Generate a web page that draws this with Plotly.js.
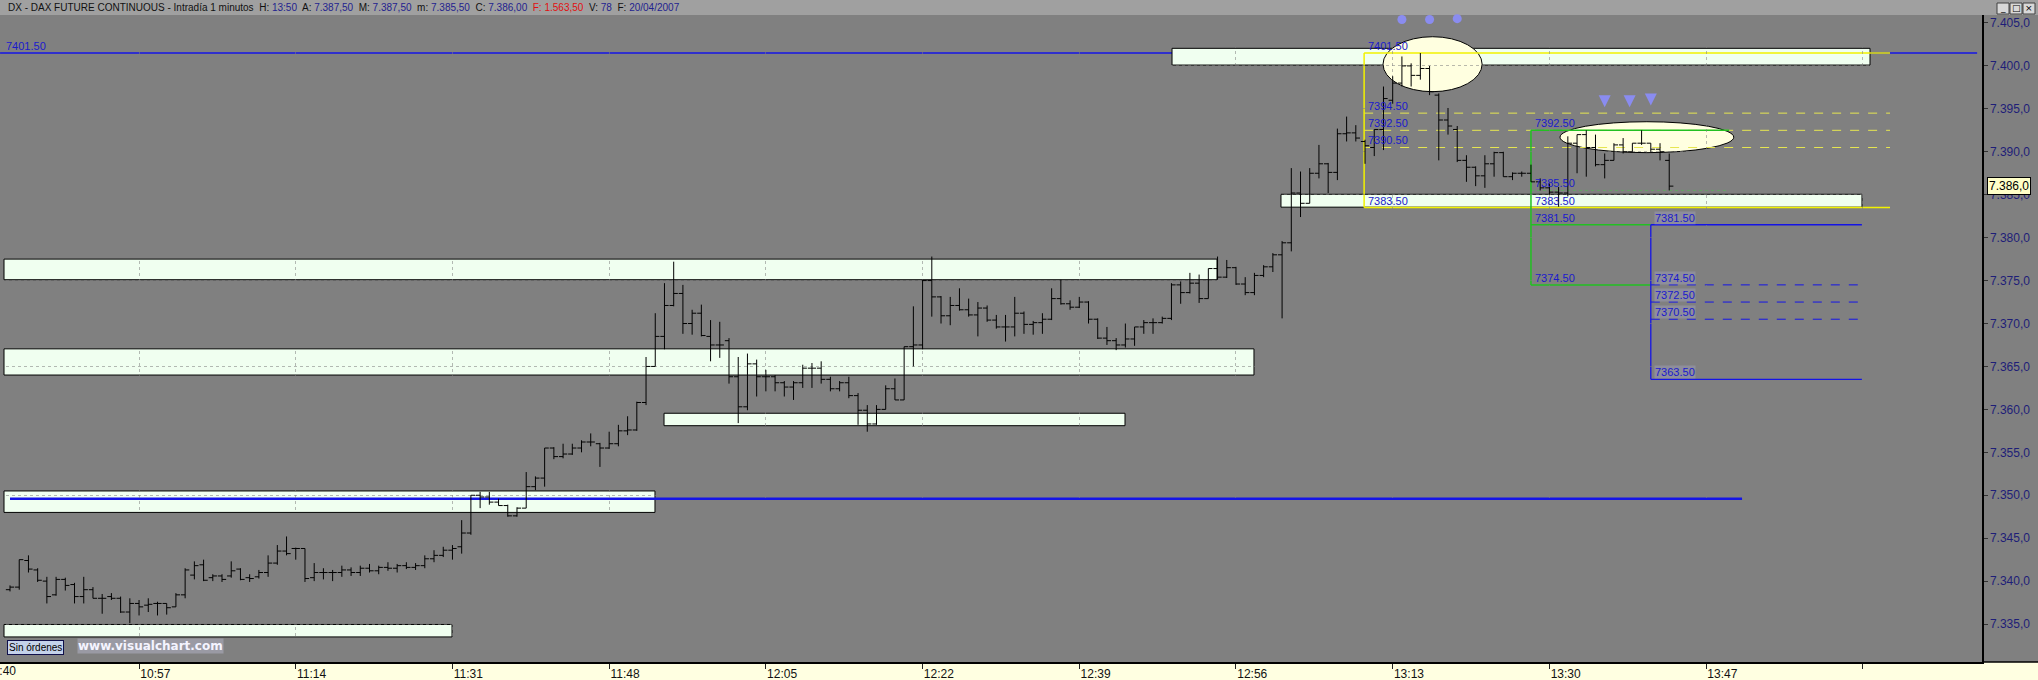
<!DOCTYPE html>
<html><head><meta charset="utf-8">
<script src="https://cdn.plot.ly/plotly-3.0.1.min.js"></script>
<style>html,body{margin:0;padding:0;background:#808080;overflow:hidden}#chart{width:2038px;height:680px}</style>
</head><body><div id="chart"></div>
<script>
// ---------- DATA ----------
const startMinute = 43; // first bar 10:43 (minutes after 10:00)
const opens = [7339.0,7339.3,7342.4,7341.3,7340.0,7338.4,7340.2,7339.6,7338.2,7339.0,
7338.0,7338.2,7338.0,7336.4,7337.4,7337.2,7337.4,7337.4,7337.0,7338.4,
7340.7,7341.9,7340.4,7340.6,7340.6,7341.4,7340.4,7340.5,7341.0,7342.1,
7343.5,7343.8,7343.8,7340.4,7341.0,7341.0,7341.0,7341.3,7341.0,7341.5,
7341.2,7341.6,7341.5,7341.8,7341.6,7341.8,7342.6,7343.0,7343.6,7344.0,
7345.6,7350.0,7349.8,7349.2,7348.8,7347.6,7348.5,7351.0,7352.0,7355.5,
7354.5,7354.8,7355.5,7356.2,7356.0,7355.5,7356.0,7357.5,7357.6,7360.8,
7365.0,7368.5,7372.1,7373.5,7370.0,7371.2,7368.5,7367.5,7368.0,7363.8,
7360.3,7365.3,7363.8,7363.8,7363.1,7362.6,7363.1,7364.8,7364.8,7363.5,
7362.4,7363.1,7361.6,7359.9,7358.3,7360.0,7362.4,7361.1,7367.3,7367.5,
7375.0,7373.1,7370.9,7372.1,7371.6,7371.0,7371.8,7370.4,7369.6,7369.6,
7371.2,7369.9,7370.1,7370.5,7372.9,7372.3,7371.9,7372.5,7370.5,7368.3,
7368.0,7367.5,7368.2,7369.6,7370.1,7370.1,7370.6,7374.5,7373.6,7374.7,
7372.9,7376.4,7375.4,7376.5,7374.6,7373.6,7375.6,7376.6,7378.0,7379.4,
7385.2,7384.0,7387.5,7388.6,7387.6,7392.1,7392.2,7391.2,7390.5,7392.6,
7396.0,7398.0,7400.0,7398.9,7399.7,7396.6,7393.7,7392.6,7389.0,7388.2,
7387.2,7388.6,7389.9,7387.1,7387.5,7387.5,7386.5,7385.8,7385.3,7385.2,
7391.0,7392.0,7390.5,7388.5,7389.0,7390.8,7390.0,7391.0,7391.0,7390.3,
7389.0];
const highs = [7339.5,7342.5,7343.0,7341.5,7340.5,7340.5,7340.4,7339.8,7340.5,7339.3,
7338.5,7338.6,7338.2,7338.0,7337.8,7338.0,7337.6,7337.4,7338.6,7341.5,
7342.3,7342.5,7340.8,7340.8,7342.3,7341.5,7340.8,7341.3,7343.0,7344.2,
7345.2,7343.9,7343.8,7342.1,7341.5,7341.3,7341.8,7341.6,7341.8,7342.0,
7341.8,7342.2,7342.0,7342.2,7342.1,7343.0,7343.6,7344.0,7344.2,7347.1,
7350.0,7350.4,7350.4,7349.6,7348.9,7348.6,7352.7,7352.2,7355.5,7355.6,
7356.0,7356.0,7356.4,7357.2,7356.1,7357.4,7358.2,7359.2,7360.9,7366.1,
7371.2,7374.7,7377.2,7374.5,7371.6,7372.2,7370.4,7370.2,7368.3,7366.1,
7366.5,7365.8,7364.6,7364.0,7363.3,7363.3,7365.2,7365.4,7365.6,7363.8,
7363.3,7363.8,7361.9,7360.5,7360.5,7362.8,7363.6,7367.3,7372.0,7375.1,
7377.8,7373.2,7373.1,7374.1,7372.9,7372.5,7372.1,7371.0,7371.0,7373.1,
7371.4,7370.3,7371.2,7374.1,7375.1,7372.7,7373.1,7372.6,7370.6,7369.6,
7368.3,7370.0,7369.6,7370.4,7370.6,7370.8,7374.7,7374.9,7375.9,7375.7,
7376.4,7377.8,7377.4,7376.6,7375.4,7375.9,7376.8,7378.2,7379.6,7388.1,
7387.7,7388.1,7390.8,7388.7,7392.7,7394.1,7393.1,7391.4,7392.6,7397.6,
7398.8,7401.1,7400.3,7401.5,7400.0,7396.8,7395.1,7393.0,7389.6,7388.3,
7389.6,7390.0,7390.0,7387.6,7387.7,7388.5,7386.9,7386.3,7385.9,7391.8,
7392.0,7392.5,7392.0,7389.8,7391.0,7391.6,7391.0,7392.5,7391.0,7391.0,
7389.8];
const lows = [7338.8,7339.0,7341.0,7339.9,7337.4,7338.3,7338.9,7337.4,7337.4,7338.0,
7336.2,7337.8,7336.3,7335.1,7336.0,7336.4,7336.0,7336.1,7337.0,7338.0,
7340.2,7340.0,7340.0,7339.9,7340.4,7340.1,7339.9,7340.3,7340.5,7341.9,
7343.0,7342.5,7339.9,7340.0,7340.2,7340.0,7340.5,7340.6,7340.6,7341.0,
7340.8,7341.2,7341.0,7341.4,7341.3,7341.5,7342.2,7342.8,7342.5,7343.2,
7345.4,7348.5,7348.9,7348.8,7347.5,7347.5,7348.5,7350.6,7351.0,7354.2,
7354.3,7354.7,7355.0,7355.7,7353.3,7355.4,7355.7,7357.0,7357.5,7360.5,
7365.0,7367.0,7372.0,7368.8,7368.7,7368.5,7365.6,7366.0,7363.0,7358.4,
7359.9,7361.5,7362.1,7362.1,7361.5,7361.1,7362.5,7362.5,7363.0,7362.1,
7362.1,7361.3,7358.2,7357.4,7358.2,7360.0,7361.1,7361.1,7365.0,7367.0,
7370.8,7370.0,7369.8,7371.5,7370.8,7368.5,7370.2,7369.4,7367.9,7368.5,
7368.8,7368.7,7368.8,7370.4,7372.2,7371.6,7371.8,7370.0,7368.2,7367.5,
7366.9,7367.2,7367.4,7368.8,7368.8,7370.0,7370.4,7372.3,7373.5,7372.4,
7372.9,7375.1,7375.3,7374.5,7373.3,7373.3,7375.4,7376.0,7370.6,7378.4,
7382.4,7384.0,7386.9,7385.2,7386.7,7391.2,7391.2,7388.6,7389.5,7390.2,
7395.6,7397.6,7397.6,7398.4,7396.6,7389.0,7392.0,7388.8,7386.5,7386.0,
7385.8,7387.1,7387.1,7386.7,7387.1,7386.5,7385.5,7385.0,7383.6,7384.8,
7387.5,7387.1,7388.3,7386.9,7389.0,7389.8,7390.0,7390.8,7390.0,7389.0,
7385.5];
const closes = [7339.3,7342.5,7341.4,7340.1,7338.2,7340.2,7339.5,7338.2,7339.0,7338.0,
7338.0,7338.0,7336.4,7337.4,7337.0,7337.3,7337.4,7336.9,7338.4,7341.3,
7341.8,7340.1,7340.6,7340.2,7341.2,7340.2,7340.3,7341.0,7342.1,7343.5,
7343.2,7343.8,7340.3,7341.0,7341.0,7341.0,7341.3,7341.0,7341.5,7341.2,
7341.6,7341.5,7341.8,7341.6,7341.8,7342.6,7343.0,7343.6,7343.8,7345.6,
7350.0,7349.8,7349.2,7348.8,7347.6,7348.5,7351.0,7352.0,7355.5,7354.5,
7354.8,7355.5,7356.2,7356.2,7355.5,7356.0,7357.5,7357.6,7360.8,7365.0,
7368.5,7372.1,7373.5,7370.0,7371.2,7368.6,7367.5,7367.5,7363.8,7360.3,
7365.3,7363.8,7363.8,7363.1,7362.6,7363.1,7364.8,7364.8,7363.5,7362.4,
7363.1,7361.6,7359.9,7358.3,7360.0,7362.4,7361.1,7367.3,7367.5,7375.0,
7373.1,7370.9,7372.1,7371.6,7371.0,7371.8,7370.4,7369.6,7369.6,7371.2,
7369.9,7370.1,7370.5,7372.9,7372.3,7371.9,7372.5,7370.5,7368.3,7368.0,
7367.5,7368.2,7369.6,7370.1,7370.1,7370.6,7374.5,7373.6,7374.7,7372.9,
7376.4,7375.4,7376.5,7374.6,7373.6,7375.6,7376.6,7378.0,7379.4,7385.2,
7384.0,7387.5,7388.6,7387.6,7392.1,7392.2,7391.6,7390.7,7392.6,7396.2,
7398.0,7400.0,7398.9,7399.7,7397.0,7393.7,7393.0,7389.0,7388.2,7387.2,
7388.6,7389.9,7387.1,7387.5,7387.5,7386.5,7385.8,7385.3,7385.2,7391.0,
7392.0,7390.5,7388.5,7389.0,7390.8,7390.0,7391.0,7391.0,7390.3,7390.0,
7386.0];
const barMinutes = opens.map((_, i) => startMinute + i);

const tickMinutes = [57, 74, 91, 108, 125, 142, 159, 176, 193, 210, 227, 244];
const tickLabels = ['10:57','11:14','11:31','11:48','12:05','12:22','12:39','12:56','13:13','13:30','13:47',''];
const firstTick = {minute: 40, label: '10:40'};
const priceTicks = [7335,7340,7345,7350,7355,7360,7365,7370,7375,7380,7385,7390,7395,7400,7405];
const lastPrice = 7386.0;

// support / resistance zones
const zoneStart = [169.06, 180.88, 42.35, 42.35, 113.95, 42.35, 42.35];
const zoneEnd   = [244.78, 243.91, 173.94, 177.95, 163.96, 112.97, 90.95];
const zoneLow   = [7400.1, 7383.55, 7375.1, 7364.0, 7358.1, 7348.0, 7333.5];
const zoneHigh  = [7402.05, 7385.05, 7377.5, 7367.05, 7359.55, 7350.5, 7334.95];
// long blue horizontal lines
const hLineLevel = [7401.5, 7349.6];
const hLineStart = [41.92, 43.0];
const hLineEnd   = [256.4, 230.9];
// ellipses
const ovalStart = [191.95, 211.15];
const ovalEnd   = [202.7, 230.0];
const ovalLow   = [7397.0, 7389.9];
const ovalHigh  = [7403.4, 7393.5];
// retracement sets
const fibA = {x0: 189.9, x1: 246.95, solid: [7401.5, 7383.5], dashed: [7394.5, 7392.5, 7390.5], labels: [7401.5, 7394.5, 7392.5, 7390.5, 7383.5]};
const fibB = {x0: 208.0, top: 7392.5, topEnd: 229.5, solid: [7381.5, 7374.5], solidEnd: 221.0, faint: [7385.5], bottom: 7374.5, labels: [7392.5, 7385.5, 7383.5, 7381.5, 7374.5]};
const fibC = {x0: 221.0, x1: 243.9, solid: [7381.5, 7363.5], dashed: [7374.5, 7372.5, 7370.5], labels: [7381.5, 7374.5, 7372.5, 7370.5, 7363.5]};
// signal markers
const dotMinutes = [194, 197, 200];
const dotPrices = [7405.4, 7405.4, 7405.5];
const arrowMinutes = [216, 218.7, 221];
const arrowPrices = [7395.2, 7395.2, 7395.4];

// ---------- LAYOUT HELPERS ----------
const W = 2038, H = 680, ML = 0, MR = 56, MT = 15, MB = 18;
const PW = W - ML - MR, PH = H - MT - MB;
const px = v => (v - ML) / PW;
const py = v => (H - MB - v) / PH;
const FONT = 'Liberation Sans, Arial, sans-serif';
const BLUE_TXT = '#1a1acc';
const xRange = [41.915, 256.93];
const minToPx = m => ML + (m - xRange[0]) / (xRange[1] - xRange[0]) * PW;

const shapes = [];
const annotations = [];

// header & x-band background
shapes.push({type:'rect', xref:'paper', yref:'paper', x0: px(0), x1: px(W), y0: py(MT), y1: py(0), fillcolor:'#a0a0a0', line:{width:0}, layer:'below'});
shapes.push({type:'rect', xref:'paper', yref:'paper', x0: px(0), x1: px(W), y0: py(H), y1: py(H-MB), fillcolor:'#ffffe1', line:{width:0}, layer:'below'});
shapes.push({type:'line', xref:'paper', yref:'paper', x0: 1, x1: px(W), y0: 0, y1: 0, line:{color:'#000', width:1.5}});

// long blue line (under zones)
shapes.push({type:'line', xref:'x', yref:'y', x0: hLineStart[0], x1: hLineEnd[0], y0: hLineLevel[0], y1: hLineLevel[0], line:{color:'#1414e6', width:1.5}, layer:'below'});
// zones
for (let k = 0; k < zoneStart.length; k++) {
  shapes.push({type:'rect', xref:'x', yref:'y', x0: zoneStart[k], x1: zoneEnd[k], y0: zoneLow[k], y1: zoneHigh[k], fillcolor:'#f0fff0', line:{color:'#000', width:1}, layer:'below'});
}
shapes.push({type:'line', xref:'x', yref:'y', x0: hLineStart[1], x1: hLineEnd[1], y0: hLineLevel[1], y1: hLineLevel[1], line:{color:'#1414e6', width:2.5}, layer:'below'});
// ovals
for (let k = 0; k < ovalStart.length; k++) {
  shapes.push({type:'circle', xref:'x', yref:'y', x0: ovalStart[k], x1: ovalEnd[k], y0: ovalLow[k], y1: ovalHigh[k], fillcolor:'#ffffe0', line:{color:'#000', width:1}, layer:'below'});
}
const hl = (x0, x1, y, color, width, dash) => shapes.push({type:'line', xref:'x', yref:'y', x0, x1, y0:y, y1:y, line:{color, width, dash: dash || 'solid'}, layer:'below'});
const vl = (x, y0, y1, color, width) => shapes.push({type:'line', xref:'x', yref:'y', x0:x, x1:x, y0, y1, line:{color, width}, layer:'below'});
// fib A (yellow)
fibA.solid.forEach(v => hl(fibA.x0, fibA.x1, v, '#f2f200', 1.5));
fibA.dashed.forEach(v => hl(fibA.x0, fibA.x1, v, '#e6e650', 1, 'dash'));
vl(fibA.x0, Math.min(...fibA.solid), Math.max(...fibA.solid), '#f2f200', 1.5);
// fib B (green)
hl(fibB.x0, fibB.topEnd, fibB.top, '#22c022', 1.5);
fibB.solid.forEach(v => hl(fibB.x0, fibB.solidEnd, v, '#22c022', 1.5));
fibB.faint.forEach(v => hl(fibB.x0, fibB.topEnd, v, 'rgba(80,190,80,0.6)', 1, 'dot'));
vl(fibB.x0, fibB.bottom, fibB.top, '#22c022', 1.5);
// fib C (blue)
fibC.solid.forEach(v => hl(fibC.x0, fibC.x1, v, '#1414e6', 1.3));
fibC.dashed.forEach(v => hl(fibC.x0, fibC.x1, v, '#1414e6', 1, 'dash'));
vl(fibC.x0, Math.min(...fibC.solid), Math.max(...fibC.solid), '#1414e6', 1.3);

// level labels
const lvlLabel = (x, v, bg) => annotations.push({xref:'x', yref:'y', x, y:v, xanchor:'left', yanchor:'bottom', text: v.toFixed(2), showarrow:false, font:{family:FONT, size:11, color:BLUE_TXT}, borderpad:0, bgcolor: bg || 'rgba(0,0,0,0)'});
lvlLabel(hLineStart[0] + 0.5, hLineLevel[0]);
fibA.labels.forEach(v => lvlLabel(fibA.x0 + 0.3, v));
fibB.labels.forEach(v => lvlLabel(fibB.x0 + 0.3, v));
fibC.labels.forEach(v => lvlLabel(fibC.x0 + 0.3, v, 'rgba(170,170,205,0.35)'));

// header text
const nv = s => `<span style="color:#23238f">${s}</span>`;
const rv = s => `<span style="color:#e01010">${s}</span>`;
annotations.push({xref:'paper', yref:'paper', x: px(6), y: py(8), xanchor:'left', yanchor:'middle', showarrow:false,
  text: `DX - DAX FUTURE CONTINUOUS - Intradía 1 minutos  H: ${nv('13:50')}  A: ${nv('7.387,50')}  M: ${nv('7.387,50')}  m: ${nv('7.385,50')}  C: ${nv('7.386,00')}  ${rv('F:')} ${rv('1.563,50')}  V: ${nv('78')}  F: ${nv('20/04/2007')}`,
  font:{family:FONT, size:10, color:'#111'}});
// window buttons
[1997, 2010, 2023].forEach((x, k) => {
  shapes.push({type:'rect', xref:'paper', yref:'paper', x0: px(x), x1: px(x+12), y0: py(14), y1: py(3), fillcolor:'#d8d8d8', line:{color:'#404040', width:1}});
  annotations.push({xref:'paper', yref:'paper', x: px(x+6), y: py(8.5), xanchor:'center', yanchor:'middle', showarrow:false, text: ['_','□','×'][k], font:{family:'DejaVu Sans', size:9, color:'#000'}});
});
// last price box
annotations.push({xref:'paper', yref:'y', x: px(1987), y: lastPrice, xanchor:'left', yanchor:'middle', showarrow:false, text: '7.386,0', font:{family:FONT, size:12, color:'#000'}, bgcolor:'#ffffc8', bordercolor:'#000', borderwidth:1, borderpad:1});
// first (clipped) time label, drawn in paper space so it is not hidden
annotations.push({xref:'paper', yref:'paper', x: px(minToPx(firstTick.minute) + 2), y: py(671), xanchor:'left', yanchor:'middle', showarrow:false, text: firstTick.label, font:{family:FONT, size:12, color:'#111'}});
// footer boxes
annotations.push({xref:'paper', yref:'paper', x: px(7), y: py(647), xanchor:'left', yanchor:'middle', showarrow:false, text:'Sin órdenes', font:{family:FONT, size:10, color:'#000'}, bgcolor:'#c4d2ea', bordercolor:'#10104a', borderwidth:1, borderpad:1});
annotations.push({xref:'paper', yref:'paper', x: px(77), y: py(646), xanchor:'left', yanchor:'middle', showarrow:false, text:'<b>www.visualchart.com</b>', font:{family:'DejaVu Sans', size:12, color:'#f4f4ff'}, bgcolor:'#9a9aa4', borderpad:0});

const traces = [
  {type:'ohlc', x: barMinutes, open: opens, high: highs, low: lows, close: closes,
   increasing:{line:{color:'#000', width:1}}, decreasing:{line:{color:'#000', width:1}},
   tickwidth: 0.45, hoverinfo:'skip', showlegend:false},
  {type:'scatter', mode:'markers', x: dotMinutes, y: dotPrices, marker:{symbol:'circle', size:9, color:'#8a8cf0'}, cliponaxis:false, hoverinfo:'skip', showlegend:false},
  {type:'scatter', mode:'markers', x: arrowMinutes, y: arrowPrices, marker:{symbol:'arrow-down', size:12, color:'#8a8cf0'}, hoverinfo:'skip', showlegend:false}
];

const layout = {
  width: W, height: H,
  margin: {l: ML, r: MR, t: MT, b: MB, pad: 0},
  paper_bgcolor: '#808080', plot_bgcolor: '#808080',
  separators: ',.',
  font: {family: FONT, size: 12, color: '#111'},
  showlegend: false,
  xaxis: {
    range: xRange, fixedrange: true,
    tickmode: 'array', tickvals: tickMinutes, ticktext: tickLabels,
    ticks: 'outside', ticklen: 5, tickcolor: '#222', tickwidth: 1,
    ticklabelposition: 'outside right',
    tickfont: {family: FONT, size: 12, color: '#111'},
    showline: true, linecolor: '#000', linewidth: 1.5,
    showgrid: true, gridcolor: 'rgba(128,128,128,0.55)', griddash: 'dot', gridwidth: 1,
    zeroline: false, rangeslider: {visible: false}
  },
  yaxis: {
    side: 'right', range: [7330.58, 7405.93], fixedrange: true,
    tickmode: 'array', tickvals: priceTicks, tickformat: ',.1f',
    ticks: 'outside', ticklen: 4, tickcolor: '#333',
    tickfont: {family: FONT, size: 12, color: '#1e1e78'},
    showline: true, linecolor: '#000', linewidth: 1.5,
    showgrid: true, gridcolor: 'rgba(128,128,128,0.55)', griddash: 'dot', gridwidth: 1,
    zeroline: false
  },
  shapes, annotations
};
Plotly.newPlot('chart', traces, layout, {staticPlot: true, displayModeBar: false});
</script></body></html>
